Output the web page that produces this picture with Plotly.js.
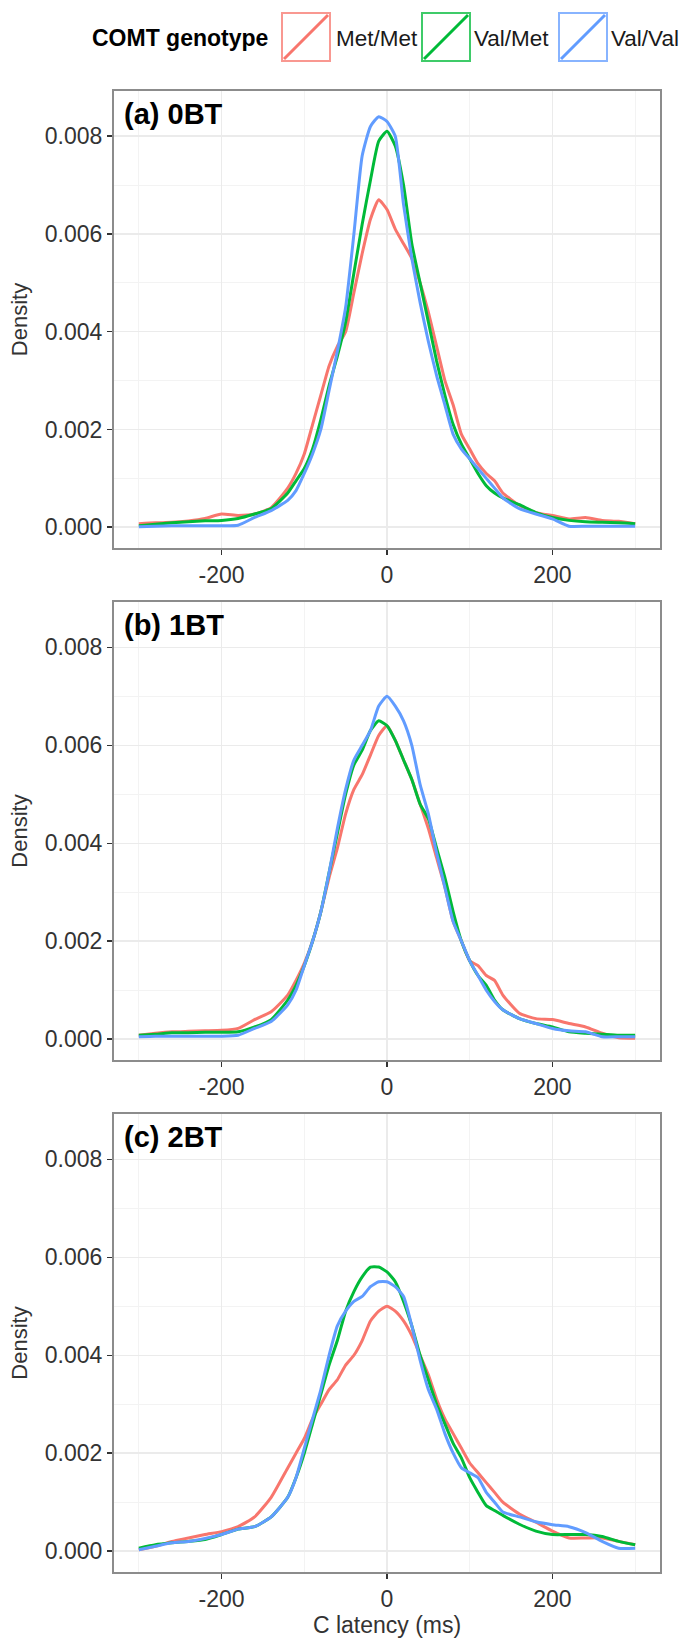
<!DOCTYPE html>
<html>
<head>
<meta charset="utf-8">
<script src="https://cdn.plot.ly/plotly-3.0.1.min.js"></script>
<style>html,body{margin:0;padding:0;background:#fff;}#chart{width:685px;height:1643px;}</style>
</head>
<body>
<div id="chart"></div>
<script>
// Data
const genotypes = ["Met/Met", "Val/Met", "Val/Val"];
const colors = ["#F8766D", "#00BA38", "#619CFF"];
const panelLabels = ["(a) 0BT", "(b) 1BT", "(c) 2BT"];
const xTicks = [-200, 0, 200];
const yTicks = [0, 0.002, 0.004, 0.006, 0.008];

const latency = [-300,-280,-260,-240,-220,-200,-180,-160,-140,-120,-110,-100,-90,-80,-70,-60,-50,-40,-30,-20,-10,0,10,20,30,40,50,60,70,80,90,100,110,120,130,140,160,180,200,220,240,260,280,300];

// Panel (a) 0BT
const a_MetMet = [0.00007,0.00009,0.0001,0.00013,0.00018,0.00027,0.00024,0.00027,0.0004,0.0008,0.0011,0.0015,0.0021,0.0027,0.0033,0.0037,0.0040,0.0048,0.0056,0.0063,0.0067,0.0065,0.0061,0.0058,0.0055,0.0050,0.0044,0.0037,0.0030,0.0025,0.0019,0.0016,0.0013,0.0011,0.00095,0.0007,0.00045,0.0003,0.00024,0.00017,0.0002,0.00014,0.00012,0.00007];
const a_ValMet = [0.00003,0.00006,0.00009,0.00011,0.00013,0.00014,0.00018,0.00027,0.00038,0.0007,0.00095,0.0012,0.0016,0.0022,0.0029,0.0035,0.0042,0.0052,0.0062,0.0071,0.0079,0.0081,0.0078,0.0070,0.0058,0.0050,0.0042,0.0034,0.0027,0.0021,0.0017,0.0014,0.0011,0.00085,0.0007,0.0006,0.00046,0.0003,0.0002,0.00014,0.00011,0.0001,0.00009,0.00007];
const a_ValVal = [0.00001,0.00002,0.00003,0.00003,0.00003,0.00003,0.00004,0.0002,0.00034,0.00055,0.00075,0.0011,0.0015,0.0020,0.0028,0.0036,0.0045,0.0060,0.0076,0.0082,0.0084,0.0083,0.0080,0.0066,0.0055,0.0046,0.0038,0.0031,0.0025,0.0019,0.0016,0.0014,0.0012,0.0010,0.0008,0.0006,0.00038,0.00027,0.00017,0.00002,0.00002,0.00002,0.00002,0.00002];

// Panel (b) 1BT
const b_MetMet = [0.00008,0.00012,0.00015,0.00016,0.00017,0.00018,0.00022,0.0004,0.00056,0.0009,0.0012,0.00155,0.002,0.0026,0.0033,0.0039,0.0046,0.0051,0.0054,0.0058,0.0062,0.0064,0.0061,0.0057,0.0053,0.0048,0.0043,0.0037,0.0031,0.0024,0.002,0.0016,0.0015,0.0013,0.0012,0.0009,0.00053,0.00042,0.0004,0.00032,0.00025,0.00012,0.00003,0.00002];
const b_ValMet = [0.00008,0.0001,0.00013,0.00013,0.00014,0.00014,0.00015,0.00025,0.0004,0.0008,0.0011,0.0015,0.002,0.0026,0.0034,0.0042,0.005,0.0056,0.0059,0.0063,0.0065,0.0064,0.0061,0.0057,0.0053,0.0048,0.0045,0.0039,0.0033,0.0026,0.002,0.0016,0.0013,0.0011,0.0008,0.0006,0.00042,0.00032,0.00025,0.00015,0.00012,0.0001,0.00008,0.00008];
const b_ValVal = [0.00005,0.00006,0.00006,0.00006,0.00006,0.00006,0.00008,0.00022,0.00036,0.0007,0.001,0.0015,0.002,0.0026,0.0034,0.0043,0.0051,0.0057,0.006,0.0063,0.0068,0.007,0.0068,0.0065,0.006,0.0052,0.0046,0.0038,0.0031,0.0024,0.002,0.0016,0.0013,0.001,0.00077,0.0006,0.00042,0.00032,0.00022,0.00017,0.00015,0.00005,0.00005,0.00005];

// Panel (c) 2BT
const c_MetMet = [0.00003,0.0001,0.0002,0.00027,0.00034,0.0004,0.0005,0.0007,0.0011,0.0017,0.002,0.0023,0.0027,0.003,0.0033,0.0035,0.0038,0.004,0.0043,0.0047,0.0049,0.005,0.0049,0.0047,0.0044,0.004,0.0036,0.0031,0.0027,0.0024,0.0021,0.0018,0.0016,0.0014,0.0012,0.001,0.00076,0.00059,0.00041,0.00027,0.00027,0.00027,0.0002,0.00013];
const c_ValMet = [0.00006,0.00013,0.00017,0.0002,0.00024,0.00034,0.00045,0.0005,0.0007,0.0011,0.0015,0.002,0.0026,0.0032,0.0038,0.0043,0.0049,0.0053,0.0056,0.0058,0.0058,0.0057,0.0055,0.0051,0.0046,0.004,0.0035,0.003,0.0026,0.0022,0.0019,0.0015,0.0012,0.00093,0.00083,0.00073,0.00055,0.00041,0.00034,0.00034,0.00034,0.0003,0.0002,0.00013];
const c_ValVal = [0.00003,0.0001,0.00017,0.0002,0.00026,0.00034,0.00045,0.0005,0.0007,0.0011,0.0015,0.0021,0.0027,0.0033,0.004,0.0046,0.0049,0.0051,0.0052,0.0054,0.0055,0.0055,0.0054,0.0052,0.0046,0.0039,0.0033,0.0029,0.0024,0.002,0.0017,0.0016,0.0015,0.0012,0.001,0.0008,0.0007,0.0006,0.00054,0.0005,0.00038,0.0002,0.00006,0.00006];

const panels = [
  [a_MetMet, a_ValMet, a_ValVal],
  [b_MetMet, b_ValMet, b_ValVal],
  [c_MetMet, c_ValMet, c_ValVal]
];

// Layout geometry (pixels)
const W = 685, H = 1643;
const mL = 114, mR = 25, mT = 91, mB = 71;
const plotW = W - mL - mR, plotH = H - mT - mB;
const panelPx = [[91, 548], [602, 1060], [1114, 1572]];
const py = p => (H - mB - p) / plotH;
const px = p => (p - mL) / plotW;

const FONT = "Liberation Sans, Arial, sans-serif";
const TXT = "#333333";

const traces = [];
panels.forEach((series, pi) => {
  series.forEach((vals, si) => {
    traces.push({
      type: "scatter", mode: "lines",
      x: latency, y: vals,
      xaxis: pi === 0 ? "x" : "x" + (pi + 1),
      yaxis: pi === 0 ? "y" : "y" + (pi + 1),
      name: genotypes[si],
      line: {color: colors[si], width: 3, shape: "spline", smoothing: 0.5},
      showlegend: false, hoverinfo: "x+y+name"
    });
  });
});

const layout = {
  width: W, height: H,
  margin: {l: mL, r: mR, t: mT, b: mB, pad: 0},
  paper_bgcolor: "#ffffff", plot_bgcolor: "#ffffff",
  font: {family: FONT, color: TXT, size: 23},
  showlegend: false,
  annotations: [], shapes: []
};

panels.forEach((_, pi) => {
  const xs = pi === 0 ? "" : String(pi + 1);
  const [top, bot] = panelPx[pi];
  const xa = {
    domain: [0, 1], range: [-330, 330], anchor: "y" + xs,
    tickmode: "array", tickvals: xTicks, ticktext: xTicks.map(String),
    ticks: "outside", ticklen: 5, tickwidth: 1.5, tickcolor: "#333",
    tickfont: {family: FONT, size: 23, color: TXT},
    showgrid: true, gridcolor: "#EBEBEB", gridwidth: 1.5,
    minor: {tickvals: [-300, -100, 100, 300], showgrid: true, gridcolor: "#F3F3F3", gridwidth: 1, ticks: ""},
    zeroline: false, showline: true, linecolor: "#8C8C8C", linewidth: 2, mirror: true,
    fixedrange: true
  };
  if (pi === 2) {
    xa.title = {text: "C latency (ms)", font: {family: FONT, size: 23, color: TXT}, standoff: 6};
  }
  const ya = {
    domain: [py(bot), py(top)], range: [-0.000425, 0.008925], anchor: "x" + xs,
    tickmode: "array", tickvals: yTicks, ticktext: yTicks.map(v => v.toFixed(3)),
    ticks: "outside", ticklen: 5, tickwidth: 1.5, tickcolor: "#333",
    tickfont: {family: FONT, size: 23, color: TXT},
    showgrid: true, gridcolor: "#EBEBEB", gridwidth: 1.5,
    minor: {tickvals: [0.001, 0.003, 0.005, 0.007], showgrid: true, gridcolor: "#F3F3F3", gridwidth: 1, ticks: ""},
    zeroline: false, showline: true, linecolor: "#8C8C8C", linewidth: 2, mirror: true,
    title: {text: "Density", font: {family: FONT, size: 22, color: TXT}, standoff: 11},
    fixedrange: true
  };
  layout["xaxis" + xs] = xa;
  layout["yaxis" + xs] = ya;
  layout.annotations.push({
    text: "<b>" + panelLabels[pi] + "</b>",
    xref: "x" + xs + " domain", yref: "y" + xs + " domain",
    x: 0.014, y: 0.99, xanchor: "left", yanchor: "top", showarrow: false,
    font: {family: FONT, size: 29, color: "#000000"}
  });
});

// Legend (drawn manually to mimic ggplot keys)
layout.annotations.push({
  text: "<b>COMT genotype</b>", xref: "paper", yref: "paper",
  x: px(90), y: py(38), xanchor: "left", yanchor: "middle", showarrow: false,
  font: {family: FONT, size: 23, color: "#000000"}
});
const keyX = [282, 422, 559];
const labX = [334, 472, 609];
genotypes.forEach((g, i) => {
  const x0 = keyX[i], x1 = keyX[i] + 48, y0 = 13, y1 = 61;
  layout.shapes.push({
    type: "rect", xref: "paper", yref: "paper",
    x0: px(x0), x1: px(x1), y0: py(y1), y1: py(y0),
    line: {color: colors[i], width: 2}, opacity: 0.75, fillcolor: "rgba(0,0,0,0)"
  });
  layout.shapes.push({
    type: "line", xref: "paper", yref: "paper",
    x0: px(x0 + 2), x1: px(x1 - 2), y0: py(y1 - 2), y1: py(y0 + 2),
    line: {color: colors[i], width: 3}
  });
  layout.annotations.push({
    text: g, xref: "paper", yref: "paper",
    x: px(labX[i]), y: py(38), xanchor: "left", yanchor: "middle", showarrow: false,
    font: {family: FONT, size: 22.5, color: "#1a1a1a"}
  });
});

Plotly.newPlot("chart", traces, layout, {staticPlot: true, displayModeBar: false});
</script>
</body>
</html>
